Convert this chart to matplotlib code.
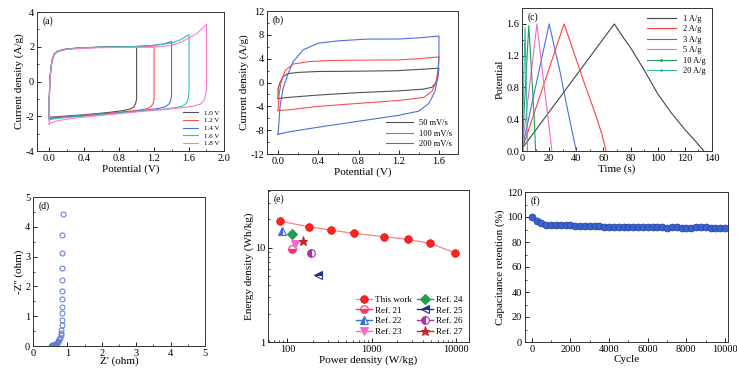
import matplotlib
matplotlib.use('Agg')
import matplotlib.pyplot as plt
from matplotlib.ticker import AutoMinorLocator, FixedLocator, FixedFormatter, LogLocator, NullFormatter

plt.rcParams['font.family'] = ['Liberation Serif', 'DejaVu Serif']
plt.rcParams['axes.unicode_minus'] = False

# (a) CV at different voltage windows
a10_x = [0.0, 0.0, 0.01, 0.03, 0.06, 0.1, 0.2, 0.4, 0.6, 0.8, 1.0, 1.0, 1.0, 0.99, 0.97, 0.93, 0.85, 0.7, 0.5, 0.3, 0.1, 0.02, 0.0]
a10_y = [-2.05, -1.0, 0.3, 1.2, 1.6, 1.75, 1.88, 1.95, 1.98, 2.0, 2.0, 0.5, -1.0, -1.25, -1.45, -1.58, -1.67, -1.77, -1.87, -1.95, -2.02, -2.05, -2.05]
a12_x = [0.0, 0.0, 0.01, 0.03, 0.06, 0.1, 0.2, 0.4, 0.6, 0.8, 1.0, 1.2, 1.2, 1.2, 1.19, 1.17, 1.13, 1.05, 0.9, 0.7, 0.5, 0.3, 0.1, 0.02, 0.0]
a12_y = [-2.1, -1.0, 0.3, 1.2, 1.6, 1.75, 1.87, 1.94, 1.97, 1.99, 2.0, 2.0, 0.5, -1.0, -1.25, -1.42, -1.55, -1.63, -1.72, -1.82, -1.9, -1.98, -2.05, -2.1, -2.1]
a14_x = [0.0, 0.0, 0.01, 0.03, 0.06, 0.1, 0.2, 0.4, 0.6, 0.8, 1.0, 1.2, 1.3, 1.4, 1.4, 1.4, 1.39, 1.37, 1.33, 1.25, 1.1, 0.9, 0.7, 0.5, 0.3, 0.1, 0.02, 0.0]
a14_y = [-2.15, -1.0, 0.3, 1.2, 1.6, 1.75, 1.87, 1.94, 1.97, 1.99, 2.02, 2.08, 2.15, 2.3, 0.8, -0.8, -1.1, -1.3, -1.45, -1.55, -1.65, -1.75, -1.85, -1.93, -2.0, -2.08, -2.13, -2.15]
a16_x = [0.0, 0.0, 0.01, 0.03, 0.06, 0.1, 0.2, 0.4, 0.6, 0.8, 1.0, 1.2, 1.4, 1.5, 1.6, 1.6, 1.6, 1.59, 1.57, 1.53, 1.45, 1.3, 1.1, 0.9, 0.7, 0.5, 0.3, 0.1, 0.02, 0.0]
a16_y = [-2.2, -1.0, 0.3, 1.2, 1.6, 1.75, 1.87, 1.94, 1.97, 1.99, 2.02, 2.08, 2.22, 2.4, 2.7, 1.0, -0.6, -1.0, -1.25, -1.4, -1.5, -1.6, -1.68, -1.77, -1.86, -1.95, -2.03, -2.12, -2.18, -2.2]
a18_x = [0.0, 0.0, 0.01, 0.03, 0.06, 0.1, 0.2, 0.4, 0.6, 0.8, 1.0, 1.2, 1.4, 1.5, 1.6, 1.7, 1.8, 1.8, 1.8, 1.79, 1.77, 1.73, 1.65, 1.5, 1.3, 1.1, 0.9, 0.7, 0.5, 0.3, 0.1, 0.02, 0.0]
a18_y = [-2.45, -1.0, 0.2, 1.1, 1.55, 1.72, 1.85, 1.92, 1.95, 1.96, 1.97, 1.98, 2.08, 2.25, 2.5, 2.8, 3.3, 1.5, -0.3, -0.8, -1.1, -1.3, -1.42, -1.52, -1.62, -1.7, -1.8, -1.9, -2.0, -2.1, -2.25, -2.38, -2.45]
a_labels = ['1.0 V', '1.2 V', '1.4 V', '1.6 V', '1.8 V']

# (b) CV at different scan rates
b50_x = [0.0, 0.0, 0.02, 0.05, 0.1, 0.2, 0.4, 0.8, 1.2, 1.4, 1.6, 1.6, 1.59, 1.57, 1.53, 1.45, 1.2, 0.8, 0.4, 0.1, 0.02, 0.0]
b50_y = [-2.7, -1.0, 0.0, 1.0, 1.5, 1.7, 1.85, 1.9, 2.0, 2.2, 2.4, 2.4, 1.0, 0.0, -0.8, -1.1, -1.4, -1.7, -2.1, -2.5, -2.65, -2.7]
b100_x = [0.0, 0.01, 0.03, 0.07, 0.15, 0.3, 0.5, 0.8, 1.2, 1.4, 1.6, 1.6, 1.59, 1.57, 1.53, 1.45, 1.2, 0.8, 0.4, 0.1, 0.0]
b100_y = [-4.7, -2.0, 0.0, 2.0, 3.1, 3.5, 3.7, 3.75, 3.8, 4.0, 4.3, 4.3, 2.0, 0.0, -1.5, -2.5, -3.0, -3.5, -4.0, -4.6, -4.7]
b200_x = [0.0, 0.02, 0.05, 0.1, 0.15, 0.25, 0.4, 0.6, 0.9, 1.2, 1.4, 1.6, 1.6, 1.59, 1.56, 1.5, 1.4, 1.2, 0.8, 0.4, 0.1, 0.0]
b200_y = [-8.7, -4.0, -1.0, 1.5, 3.5, 5.5, 6.6, 7.0, 7.3, 7.3, 7.5, 7.8, 4.0, 1.0, -1.5, -3.5, -4.8, -5.5, -6.5, -7.5, -8.3, -8.7]
b_labels = ['50 mV/s', '100 mV/s', '200 mV/s']

# (c) galvanostatic charge-discharge
c1_x = [0, 68, 75, 80, 90, 100, 110, 120, 128, 134]
c1_y = [0.03, 1.6, 1.42, 1.3, 1.02, 0.72, 0.48, 0.27, 0.12, 0.0]
c2_x = [0, 31, 36, 40, 45, 50, 55, 59, 62]
c2_y = [0.02, 1.6, 1.35, 1.15, 0.9, 0.66, 0.42, 0.2, 0.0]
c3_x = [0, 20, 24, 28, 32, 36, 40]
c3_y = [0.02, 1.6, 1.3, 1.0, 0.65, 0.32, 0.0]
c5_x = [0, 11, 14, 17, 20, 22]
c5_y = [0.02, 1.6, 1.15, 0.72, 0.3, 0.0]
c10_x = [0, 5, 7, 9, 10]
c10_y = [0.02, 1.58, 1.0, 0.4, 0.0]
c20_x = [0, 2.2, 3.2, 4]
c20_y = [0.02, 1.55, 0.8, 0.0]
c_labels = ['1 A/g', '2 A/g', '3 A/g', '5 A/g', '10 A/g', '20 A/g']

# (d) Nyquist plot
d_zre = [0.52, 0.55, 0.58, 0.6, 0.62, 0.65, 0.68, 0.7, 0.72, 0.74, 0.76, 0.78, 0.8, 0.81, 0.82, 0.83, 0.83,
         0.83, 0.83, 0.83, 0.83, 0.83, 0.83, 0.84, 0.85, 0.87]
d_zim = [0.0, 0.02, 0.03, 0.04, 0.05, 0.06, 0.08, 0.1, 0.13, 0.17, 0.22, 0.28, 0.36, 0.45, 0.55, 0.7, 0.88,
         1.1, 1.32, 1.57, 1.86, 2.22, 2.63, 3.11, 3.72, 4.43]

# (e) Ragone plot
e_power = [81, 179, 327, 614, 1410, 2670, 4870, 9720]
e_energy = [19.2, 16.7, 15.4, 14.2, 13.1, 12.3, 11.1, 8.85]
ref_labels = ['Ref. 21', 'Ref. 22', 'Ref. 23', 'Ref. 24', 'Ref. 25', 'Ref. 26', 'Ref. 27']
ref_power = [114, 86, 122, 115, 233, 188, 153]
ref_energy = [9.7, 15.2, 11.0, 14.0, 5.1, 8.7, 11.8]

# (f) cycling stability
f_cycle = [0, 250, 500, 750, 1000, 1250, 1500, 1750, 2000, 2250, 2500, 2750, 3000, 3250, 3500, 3750,
           4000, 4250, 4500, 4750, 5000, 5250, 5500, 5750, 6000, 6250, 6500, 6750, 7000, 7250, 7500,
           7750, 8000, 8250, 8500, 8750, 9000, 9250, 9500, 9750, 10000]
f_ret = [100, 96.8, 95.2, 93.8, 93.7, 93.6, 93.5, 93.6, 93.3, 93.0, 92.9, 92.8, 92.7, 92.6, 92.6, 92.4,
         92.3, 92.3, 92.2, 92.1, 92.0, 92.0, 91.9, 91.9, 91.8, 91.8, 91.7, 91.7, 91.6, 91.8, 91.7,
         91.6, 91.5, 91.6, 92.1, 92.4, 92.3, 91.3, 91.2, 91.2, 91.2]


def style(ax, minor=True):
    ax.tick_params(which='both', direction='in', top=False, right=False, labelsize=7.5, pad=2)
    ax.tick_params(which='major', length=3, width=0.6)
    ax.tick_params(which='minor', length=1.6, width=0.5)
    for s in ax.spines.values():
        s.set_linewidth(0.7)
        s.set_color('#333333')
    if minor:
        ax.xaxis.set_minor_locator(AutoMinorLocator(2))
        ax.yaxis.set_minor_locator(AutoMinorLocator(2))


def panel_label(ax, text):
    ax.text(0.03, 0.97, text, transform=ax.transAxes, fontsize=7, va='top', ha='left')


fig = plt.figure(figsize=(7.37, 3.75), dpi=100)
lab = 8

# (a)
ax = fig.add_axes([0.0502, 0.5973, 0.2537, 0.3707])
a_colors = ['#505050', '#ff4d4d', '#4a6fd8', '#2ec4b6', '#ff7ac8']
for xs, ys, c, l in zip([a10_x, a12_x, a14_x, a16_x, a18_x], [a10_y, a12_y, a14_y, a16_y, a18_y], a_colors, a_labels):
    ax.plot(xs, ys, color=c, lw=0.8, label=l)
ax.set_xlim(-0.14, 2.0)
ax.set_ylim(-4, 4)
ax.set_xticks([0.0, 0.4, 0.8, 1.2, 1.6, 2.0])
ax.set_yticks([-4, -2, 0, 2, 4])
ax.set_xlabel('Potential (V)', fontsize=lab, labelpad=1)
ax.set_ylabel('Current density (A/g)', fontsize=lab, labelpad=1)
ax.legend(loc='lower right', fontsize=5, frameon=False, handlelength=2.2, labelspacing=0.25, borderaxespad=0.3)
style(ax)
panel_label(ax, '(a)')

# (b)
ax = fig.add_axes([0.3623, 0.5893, 0.2592, 0.3813])
b_colors = ['#505050', '#ff4d4d', '#4a6fd8']
for xs, ys, c, l in zip([b50_x, b100_x, b200_x], [b50_y, b100_y, b200_y], b_colors, b_labels):
    ax.plot(xs, ys, color=c, lw=0.8, label=l)
ax.set_xlim(-0.11, 1.79)
ax.set_ylim(-12, 12)
ax.set_xticks([0.0, 0.4, 0.8, 1.2, 1.6])
ax.set_yticks([-12, -8, -4, 0, 4, 8, 12])
ax.set_xlabel('Potential (V)', fontsize=lab, labelpad=1)
ax.set_ylabel('Current density (A/g)', fontsize=lab, labelpad=1)
ax.legend(loc='lower right', fontsize=6, frameon=False, handlelength=3.2, labelspacing=0.3, borderaxespad=0.3)
style(ax)
panel_label(ax, '(b)')

# (c)
ax = fig.add_axes([0.7083, 0.5973, 0.2578, 0.3813])
c_colors = ['#444444', '#ff4040', '#4a6fd8', '#f06cc0', '#1f9e5a', '#2bb8b0']
c_xs = [c1_x, c2_x, c3_x, c5_x, c10_x, c20_x]
c_ys = [c1_y, c2_y, c3_y, c5_y, c10_y, c20_y]
for i, (xs, ys, c, l) in enumerate(zip(c_xs, c_ys, c_colors, c_labels)):
    if i >= 4:
        ax.plot(xs, ys, color=c, lw=0.8, label=l, marker='.', ms=2, markevery=[0])
    else:
        ax.plot(xs, ys, color=c, lw=0.8, label=l)
ax.set_xlim(0, 140)
ax.set_ylim(0, 1.8)
ax.set_xticks([0, 20, 40, 60, 80, 100, 120, 140])
ax.set_yticks([0.0, 0.4, 0.8, 1.2, 1.6])
ax.set_xlabel('Time (s)', fontsize=lab, labelpad=1)
ax.set_ylabel('Potential', fontsize=lab, labelpad=1)
ax.legend(loc='upper right', fontsize=6, frameon=False, handlelength=3.5, labelspacing=0.3, borderaxespad=0.4)
style(ax)
panel_label(ax, '(c)')

# (d)
ax = fig.add_axes([0.0448, 0.0773, 0.2334, 0.3973])
ax.plot(d_zre, d_zim, linestyle='none', marker='o', ms=3.6, mfc='none', mec='#5a78d8', mew=0.7)
ax.set_xlim(0, 5)
ax.set_ylim(0, 5)
ax.set_xticks([0, 1, 2, 3, 4, 5])
ax.set_yticks([0, 1, 2, 3, 4, 5])
ax.set_xlabel("Z' (ohm)", fontsize=lab, labelpad=-1)
ax.set_ylabel("-Z'' (ohm)", fontsize=lab, labelpad=1)
style(ax)
panel_label(ax, '(d)')

# (e)
ax = fig.add_axes([0.3636, 0.088, 0.2727, 0.4053])
ax.set_xscale('log')
ax.set_yscale('log')
ax.plot(e_power, e_energy, color='#ff8080', lw=0.9, marker='o', ms=5.5, mfc='#ff2020', mec='#d01010',
        mew=0.5, label='This work')
ref_styles = [
    dict(marker='o', color='#ff3366', fillstyle='bottom'),
    dict(marker='^', color='#3b6fd0', fillstyle='left'),
    dict(marker='v', color='#ff66cc', fillstyle='full'),
    dict(marker='D', color='#1fa050', fillstyle='full'),
    dict(marker='<', color='#23318f', fillstyle='top'),
    dict(marker='o', color='#b02cb0', fillstyle='left'),
    dict(marker='*', color='#c02828', fillstyle='full'),
]
for p, e, l, st in zip(ref_power, ref_energy, ref_labels, ref_styles):
    ms = 6.5 if st['marker'] == '*' else 5.5
    ax.plot([p], [e], linestyle='-', lw=1.0, color=st['color'], marker=st['marker'], ms=ms,
            fillstyle=st['fillstyle'], markerfacecoloralt='white', mec=st['color'], mew=0.8, label=l)
ax.set_xlim(59, 14100)
ax.set_ylim(1, 41)
ax.xaxis.set_major_locator(FixedLocator([100, 1000, 10000]))
ax.xaxis.set_major_formatter(FixedFormatter(['100', '1000', '10000']))
ax.yaxis.set_major_locator(FixedLocator([1, 10]))
ax.yaxis.set_major_formatter(FixedFormatter(['1', '10']))
ax.xaxis.set_minor_locator(LogLocator(base=10, subs=range(2, 10)))
ax.yaxis.set_minor_locator(LogLocator(base=10, subs=range(2, 10)))
ax.xaxis.set_minor_formatter(NullFormatter())
ax.yaxis.set_minor_formatter(NullFormatter())
ax.set_xlabel('Power density (W/kg)', fontsize=lab, labelpad=1)
ax.set_ylabel('Energy density (Wh/kg)', fontsize=lab, labelpad=1)
handles, labels = ax.get_legend_handles_labels()
ax.legend(handles, labels, loc='lower right', ncol=2, fontsize=6.5, frameon=False, handlelength=1.8,
          labelspacing=0.25, columnspacing=0.6, handletextpad=0.3, borderaxespad=0.3)
style(ax, minor=False)
panel_label(ax, '(e)')

# (f)
ax = fig.add_axes([0.7123, 0.088, 0.2754, 0.4])
ax.plot(f_cycle, f_ret, color='#2f56c0', lw=0.8, marker='o', ms=5, mfc='#3a63d0', mec='#1f3f9a', mew=0.5)
ax.set_xlim(-350, 10150)
ax.set_ylim(0, 120)
ax.set_xticks([0, 2000, 4000, 6000, 8000, 10000])
ax.set_yticks([0, 20, 40, 60, 80, 100, 120])
ax.set_xlabel('Cycle', fontsize=lab, labelpad=1)
ax.set_ylabel('Capacitance retention (%)', fontsize=lab, labelpad=1)
style(ax)
panel_label(ax, '(f)')

fig.savefig('out.png', dpi=100)
